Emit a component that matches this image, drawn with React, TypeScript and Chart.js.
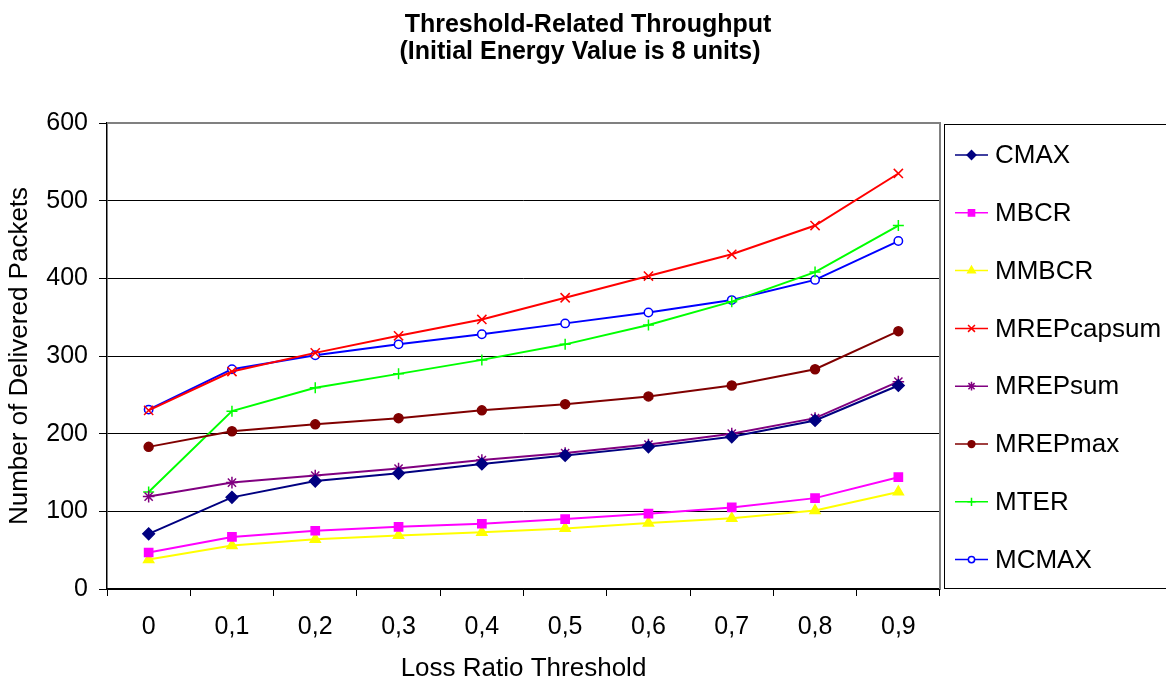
import React, { useEffect, useRef } from "react";
import { Chart, registerables } from "chart.js";
import { drawPoint } from "chart.js/helpers";

Chart.register(...registerables);

const categories = ["0", "0,1", "0,2", "0,3", "0,4", "0,5", "0,6", "0,7", "0,8", "0,9"];
const cmax = [71, 118, 139, 149, 161, 172, 183, 196, 217, 262];
const mbcr = [47, 67, 75, 80, 84, 90, 97, 105, 117, 144];
const mmbcr = [38, 56, 64, 69, 73, 78, 85, 91, 101, 125];
const mrepCapsum = [230, 280, 304, 326, 347, 375, 403, 431, 468, 535];
const mrepSum = [119, 137, 146, 155, 166, 175, 186, 200, 220, 267];
const mrepMax = [183, 203, 212, 220, 230, 238, 248, 262, 283, 332];
const mter = [125, 229, 259, 277, 295, 315, 340, 370, 408, 468];
const mcmax = [231, 283, 301, 315, 328, 342, 356, 372, 398, 448];

const titleLines = ["Threshold-Related Throughput", "(Initial Energy Value is 8 units)"];
const xTitle = "Loss Ratio Threshold";
const yTitle = "Number of Delivered Packets";

const FONT = "Arial, 'Liberation Sans', sans-serif";

const seriesDefs = [
  { label: "CMAX", data: cmax, color: "#000080", style: "rectRot", r: 5.8, fill: "#000080" },
  { label: "MBCR", data: mbcr, color: "#FF00FF", style: "rect", r: 5.8, fill: "#FF00FF" },
  { label: "MMBCR", data: mmbcr, color: "#FFFF00", style: "triangle", r: 5.8, fill: "#FFFF00" },
  { label: "MREPcapsum", data: mrepCapsum, color: "#FF0000", style: "crossRot", r: 6.5, fill: "#FF0000" },
  { label: "MREPsum", data: mrepSum, color: "#800080", style: "star", r: 5.8, fill: "#800080" },
  { label: "MREPmax", data: mrepMax, color: "#800000", style: "circle", r: 4.5, fill: "#800000" },
  { label: "MTER", data: mter, color: "#00FF00", style: "cross", r: 5.5, fill: "#00FF00" },
  { label: "MCMAX", data: mcmax, color: "#0000FF", style: "circle", r: 4.2, fill: "#FFFFFF" },
];

const decorPlugin = {
  id: "decor",
  afterDraw(chart: any) {
    const ctx = chart.ctx;
    const ca = chart.chartArea;
    ctx.save();
    // title
    ctx.fillStyle = "#000";
    ctx.font = `bold 25px ${FONT}`;
    ctx.textAlign = "center";
    ctx.textBaseline = "alphabetic";
    ctx.fillText(titleLines[0], 588, 32);
    ctx.fillText(titleLines[1], 580, 59);
    // plot border top/right gray
    ctx.strokeStyle = "#808080";
    ctx.lineWidth = 2;
    ctx.beginPath();
    ctx.moveTo(ca.left, ca.top);
    ctx.lineTo(ca.right, ca.top);
    ctx.lineTo(ca.right, ca.bottom);
    ctx.stroke();
    // legend box
    ctx.strokeStyle = "#000";
    ctx.lineWidth = 1;
    ctx.strokeRect(944.5, 124.5, 240, 464);
    const rowY0 = 155;
    const rowStep = 57.8;
    chart.data.datasets.forEach((ds: any, i: number) => {
      const y = rowY0 + i * rowStep;
      ctx.strokeStyle = ds.borderColor;
      ctx.lineWidth = 1.5;
      ctx.beginPath();
      ctx.moveTo(955, y);
      ctx.lineTo(988, y);
      ctx.stroke();
      ctx.fillStyle = ds.pointBackgroundColor;
      ctx.strokeStyle = ds.borderColor;
      ctx.lineWidth = 1.5;
      drawPoint(ctx, { pointStyle: ds.pointStyle, radius: ds.pointRadius * 0.75, rotation: 0, borderWidth: 1.5 }, 971.5, y);
      ctx.fillStyle = "#000";
      ctx.font = `26px ${FONT}`;
      ctx.textAlign = "left";
      ctx.textBaseline = "middle";
      ctx.fillText(ds.label, 995, y + 1);
    });
    ctx.restore();
  },
};

export default function App() {
  const ref = useRef<HTMLCanvasElement>(null);
  useEffect(() => {
    document.body.style.margin = "0";
    const chart = new Chart(ref.current as HTMLCanvasElement, {
      type: "line",
      data: {
        labels: categories,
        datasets: seriesDefs.map((s) => ({
          label: s.label,
          data: s.data,
          borderColor: s.color,
          backgroundColor: s.fill,
          pointBackgroundColor: s.fill,
          pointBorderColor: s.color,
          pointStyle: s.style as any,
          pointRadius: s.r,
          pointBorderWidth: 1.5,
          borderWidth: 2,
          tension: 0,
          fill: false,
        })),
      },
      options: {
        animation: false,
        responsive: false,
        devicePixelRatio: 1,
        layout: { padding: { top: 123, right: 226, left: 0, bottom: 0 } },
        plugins: {
          legend: { display: false },
          title: { display: false },
          tooltip: { enabled: false },
        },
        scales: {
          x: {
            type: "category",
            offset: true,
            grid: { offset: true, drawOnChartArea: false, drawTicks: true, tickLength: 7, color: "#000" },
            border: { display: true, color: "#000", width: 1.5 },
            ticks: { font: { family: FONT, size: 25 }, color: "#000", padding: 16, maxRotation: 0 },
            title: { display: true, text: xTitle, font: { family: FONT, size: 26 }, color: "#000", padding: { top: 0, bottom: 0 } },
            afterFit: (s: any) => { s.height = 95; },
          },
          y: {
            min: 0,
            max: 600,
            ticks: { stepSize: 100, font: { family: FONT, size: 25 }, color: "#000", padding: 11 },
            grid: { color: "#000", lineWidth: 1, tickLength: 8, drawTicks: true },
            border: { display: true, color: "#000", width: 1.5 },
            title: { display: true, text: yTitle, font: { family: FONT, size: 26 }, color: "#000", padding: { top: 4.5, bottom: 0 } },
            afterFit: (s: any) => { s.width = 107; },
          },
        },
      },
      plugins: [decorPlugin],
    });
    return () => chart.destroy();
  }, []);
  return (
    <div style={{ position: "fixed", left: 0, top: 0, width: 1166, height: 684, background: "#fff" }}>
      <canvas ref={ref} width={1166} height={684} />
    </div>
  );
}
